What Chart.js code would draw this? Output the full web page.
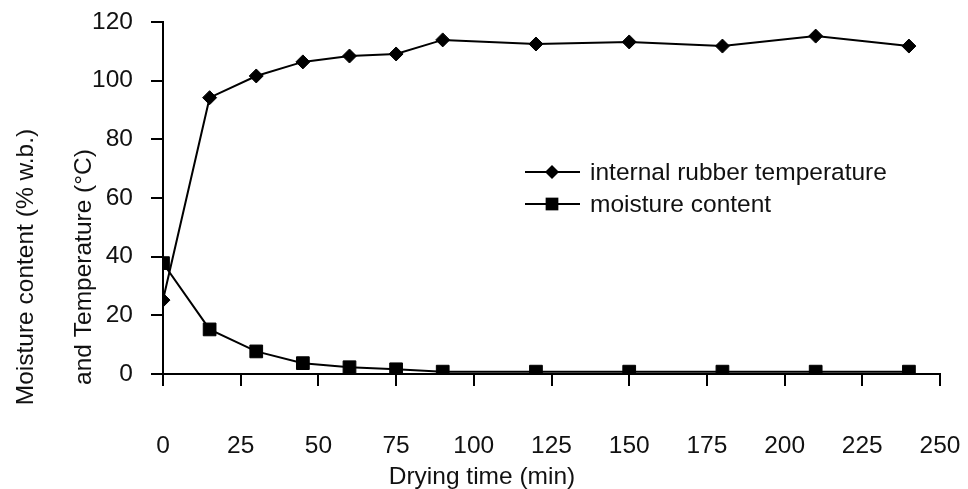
<!DOCTYPE html>
<html>
<head>
<meta charset="utf-8">
<script src="https://cdn.jsdelivr.net/npm/chart.js@4/dist/chart.umd.min.js"></script>
<style>
  html, body { margin: 0; padding: 0; background: #fff; }
  #wrap { width: 968px; height: 489px; }
</style>
</head>
<body>
<div id="wrap"><canvas id="grafico" width="968" height="489"></canvas></div>
<script>
// dados
const tempo = [0, 15, 30, 45, 60, 75, 90, 120, 150, 180, 210, 240];
const temperatura = [25.2, 94.2, 101.6, 106.4, 108.4, 109.1, 113.9, 112.5, 113.2, 111.8, 115.2, 111.8];
const umidade = [37.8, 15.2, 7.7, 3.7, 2.3, 1.6, 0.8, 0.8, 0.8, 0.8, 0.8, 0.8];

const nomes = ["internal rubber temperature", "moisture content"];
const tituloX = "Drying time (min)";
const tituloY = ["Moisture content (% w.b.)", "and Temperature (\u00B0C)"];

const FONTE = "Liberation Sans, Arial, Helvetica, sans-serif";
const TAM = 24.5;

function pontos(valores){
    return tempo.map((t, i) => ({ x: t, y: valores[i] }));
}

// marcador desenhado à mão (legenda)
function marcador(ctx, estilo, x, y, r){
    ctx.beginPath();
    if(estilo === "rectRot"){
        ctx.moveTo(x, y - r);
        ctx.lineTo(x + r, y);
        ctx.lineTo(x, y + r);
        ctx.lineTo(x - r, y);
    } else {
        const s = r * Math.SQRT1_2;
        ctx.rect(x - s, y - s, 2 * s, 2 * s);
    }
    ctx.closePath();
    ctx.fill();
}

// títulos e legenda
const textos = {
    id: "textos",
    afterDraw(chart){
        const ctx = chart.ctx;
        ctx.save();
        ctx.fillStyle = "#111";
        ctx.strokeStyle = "#000";
        ctx.font = TAM + "px " + FONTE;

        // título do eixo x
        ctx.textAlign = "center";
        ctx.textBaseline = "alphabetic";
        ctx.fillText(tituloX, 482, 484);

        // título do eixo y (duas linhas)
        ctx.save();
        ctx.translate(0, 267);
        ctx.rotate(-Math.PI / 2);
        ctx.fillText(tituloY[0], 0, 33);
        ctx.fillText(tituloY[1], 0, 91);
        ctx.restore();

        // legenda
        const linhas = [172, 204];
        chart.data.datasets.forEach((ds, i) => {
            const y = linhas[i];
            ctx.lineWidth = 2;
            ctx.beginPath();
            ctx.moveTo(525, y);
            ctx.lineTo(580, y);
            ctx.stroke();
            ctx.fillStyle = "#000";
            marcador(ctx, ds.pointStyle, 552, y, ds.pointRadius);
            ctx.fillStyle = "#111";
            ctx.textAlign = "left";
            ctx.textBaseline = "middle";
            ctx.fillText(ds.label, 590, y + 1);
        });
        ctx.restore();
    }
};

// zera o padding extra que o Chart.js põe por causa dos rótulos
function semPadding(scale){
    scale.paddingTop = 0;
    scale.paddingBottom = 0;
    scale.paddingLeft = 0;
    scale.paddingRight = 0;
}

const canvas = document.getElementById("grafico");

new Chart(canvas, {
    type: "line",
    data: {
        datasets: [
            {
                label: nomes[0],
                data: pontos(temperatura),
                borderColor: "#000",
                backgroundColor: "#000",
                borderWidth: 2,
                pointStyle: "rectRot",
                pointRadius: 7,
                pointBorderWidth: 1,
                tension: 0
            },
            {
                label: nomes[1],
                data: pontos(umidade),
                borderColor: "#000",
                backgroundColor: "#000",
                borderWidth: 2,
                pointStyle: "rect",
                pointRadius: 9,
                pointBorderWidth: 1,
                tension: 0
            }
        ]
    },
    options: {
        responsive: false,
        animation: false,
        layout: {
            padding: { left: 0, top: 22, right: 28, bottom: 0 }
        },
        plugins: {
            legend: { display: false },
            tooltip: { enabled: false }
        },
        scales: {
            x: {
                type: "linear",
                min: 0,
                max: 250,
                ticks: {
                    stepSize: 25,
                    padding: 46,
                    color: "#111",
                    font: { family: FONTE, size: TAM },
                    maxRotation: 0
                },
                grid: {
                    drawOnChartArea: false,
                    drawTicks: true,
                    tickLength: 12,
                    color: "#000",
                    lineWidth: 2
                },
                border: { display: true, color: "#000", width: 2 },
                afterFit(scale){
                    scale.height = 115;
                    semPadding(scale);
                }
            },
            y: {
                min: 0,
                max: 120,
                ticks: {
                    stepSize: 20,
                    padding: 18,
                    color: "#111",
                    font: { family: FONTE, size: TAM }
                },
                grid: {
                    drawOnChartArea: false,
                    drawTicks: true,
                    tickLength: 12,
                    color: "#000",
                    lineWidth: 2
                },
                border: { display: true, color: "#000", width: 2 },
                afterFit(scale){
                    scale.width = 163;
                    semPadding(scale);
                }
            }
        }
    },
    plugins: [textos]
});
</script>
</body>
</html>
